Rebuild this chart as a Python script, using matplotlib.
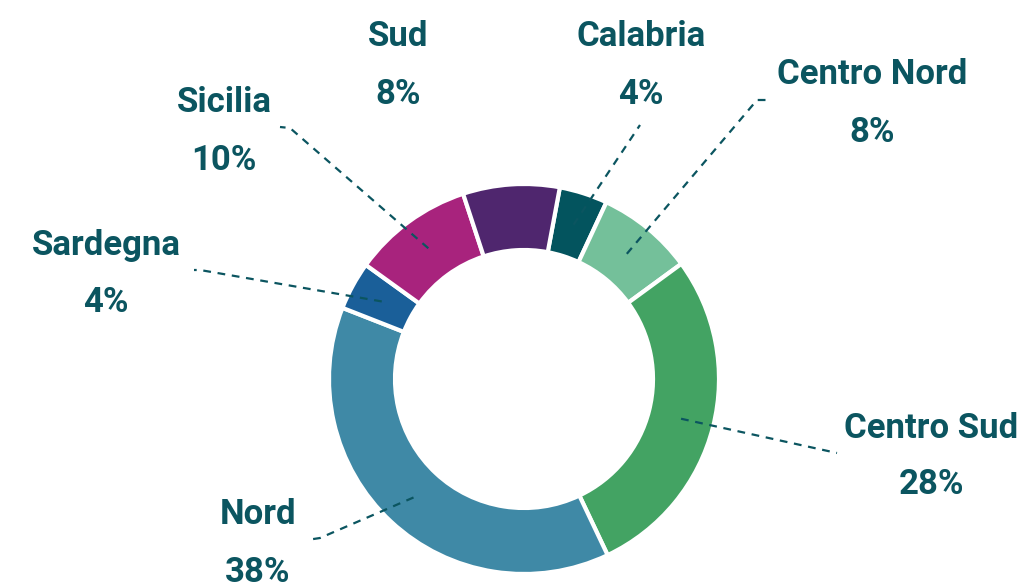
import matplotlib.pyplot as plt
import numpy as np

# regions, clockwise starting just right of the top
regions = ['Calabria', 'Centro Nord', 'Centro Sud', 'Nord', 'Sardegna', 'Sicilia', 'Sud']
shares = [4, 8, 28, 38, 4, 10, 8]
colors = ['#03545e', '#74c09a', '#43a363', '#3f89a6', '#1a5f99', '#a8237d', '#4f266e']

W, H = 1029, 585
txt_color = '#0b5560'

fig = plt.figure(figsize=(W / 100, H / 100), dpi=100)
ax = fig.add_axes([0, 0, 1, 1])

cx, cy = 524, H - 379
r_out, ring = 195, 66
start = 79.4

wedges, _ = ax.pie(shares, colors=colors, startangle=start, counterclock=False,
                   radius=r_out, center=(cx, cy), frame=True,
                   wedgeprops=dict(width=ring, edgecolor='white', linewidth=3))
ax.set_xlim(0, W)
ax.set_ylim(0, H)
ax.set_aspect('equal')
ax.axis('off')

# label positions (x, y of name) and leader line bends, in pixels from top
label_pos = {
    'Calabria': (641, 37),
    'Centro Nord': (872, 75),
    'Centro Sud': (931, 428),
    'Nord': (258, 515),
    'Sardegna': (106, 245),
    'Sicilia': (224, 103),
    'Sud': (398, 37),
}
leader_pts = {
    'Calabria': [(640, 125)],
    'Centro Nord': [(757, 100), (767, 100)],
    'Centro Sud': [(837, 453)],
    'Nord': [(320, 538), (307, 540)],
    'Sardegna': [(200, 270), (194, 270)],
    'Sicilia': [(290, 128), (280, 127)],
    'Sud': None,
}

font = ['Roboto', 'DejaVu Sans']
r_mid = r_out - ring / 2
for w, name, val in zip(wedges, regions, shares):
    x, y = label_pos[name]
    ax.text(x, H - y, name, ha='center', va='center', fontsize=25,
            fontweight='bold', color=txt_color, family=font)
    ax.text(x, H - y - 57, f'{val}%', ha='center', va='center', fontsize=25,
            fontweight='bold', color=txt_color, family=font)
    pts = leader_pts[name]
    if pts is None:
        continue
    ang = np.deg2rad((w.theta1 + w.theta2) / 2)
    xs = [cx + r_mid * np.cos(ang)] + [p[0] for p in pts]
    ys = [cy + r_mid * np.sin(ang)] + [H - p[1] for p in pts]
    ax.plot(xs, ys, color=txt_color, linestyle=(0, (3.5, 3)), linewidth=1.6)

fig.savefig('out.png', dpi=100)
